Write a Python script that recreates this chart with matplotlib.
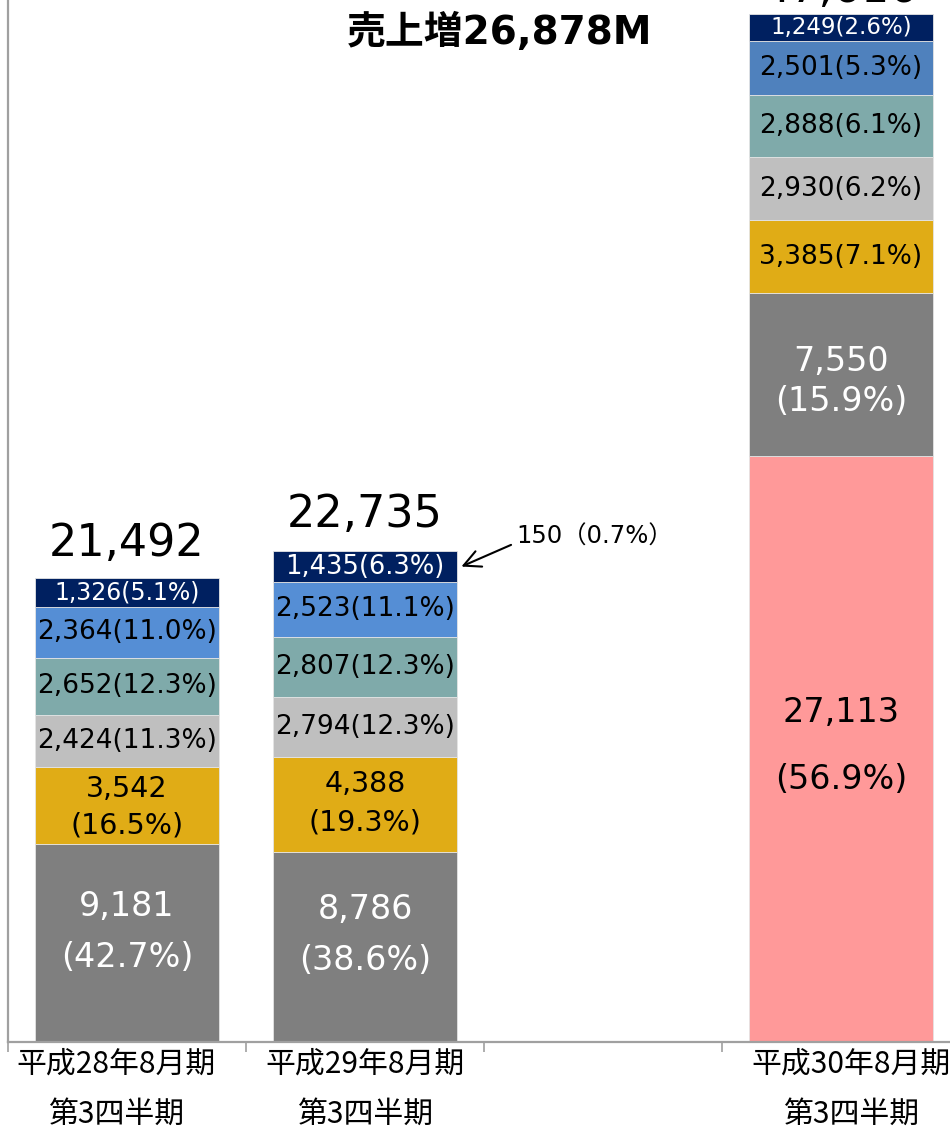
"""
Stacked sales breakdown by period (Q3), recreated with matplotlib.
Saves out.png (950x1130).
"""
import numpy as np
import matplotlib
matplotlib.use("Agg")
import matplotlib.pyplot as plt
import matplotlib.transforms as mtransforms

# ---------------------------------------------------------------------------
# data
# ---------------------------------------------------------------------------
periods = ["平成28年8月期\n第3四半期", "平成29年8月期\n第3四半期", "",
           "平成30年8月期\n第3四半期"]

# segments from bottom to top (0 = no segment in that period)
new_biz = [0, 0, 0, 27113]
new_biz_pct = [0, 0, 0, 56.9]
seg_gray = [9181, 8786, 0, 7550]
seg_gray_pct = [42.7, 38.6, 0, 15.9]
seg_gold = [3542, 4388, 0, 3385]
seg_gold_pct = [16.5, 19.3, 0, 7.1]
seg_silver = [2424, 2794, 0, 2930]
seg_silver_pct = [11.3, 12.3, 0, 6.2]
seg_teal = [2652, 2807, 0, 2888]
seg_teal_pct = [12.3, 12.3, 0, 6.1]
seg_blue = [2364, 2523, 0, 2501]
seg_blue_pct = [11.0, 11.1, 0, 5.3]
seg_navy = [1326, 1435, 0, 1249]
seg_navy_pct = [5.1, 6.3, 0, 2.6]

totals = [21492, 22735, 0, 47616]
note_value, note_pct = 150, 0.7
title = "売上増26,878M"

# ---------------------------------------------------------------------------
# style
# ---------------------------------------------------------------------------
CJK = ["Noto Sans CJK JP", "DejaVu Sans"]
LAT = ["DejaVu Sans", "Noto Sans CJK JP"]

# (values, pcts, colours per bar, text colour, font sizes per bar)
SERIES = [
    (new_biz, new_biz_pct, ["#FF9999"] * 4, "black", [0, 0, 0, 24]),
    (seg_gray, seg_gray_pct, ["#7F7F7F"] * 4, "white", [24, 24, 0, 24]),
    (seg_gold, seg_gold_pct, ["#E0AC16"] * 4, "black", [20.5, 20.5, 0, 19]),
    (seg_silver, seg_silver_pct, ["#BFBFBF"] * 4, "black", [19, 19, 0, 19]),
    (seg_teal, seg_teal_pct, ["#7FAAAA"] * 4, "black", [19, 19, 0, 19]),
    (seg_blue, seg_blue_pct, ["#558ED5", "#558ED5", "#558ED5", "#4F81BD"],
     "black", [19, 19, 0, 19]),
    (seg_navy, seg_navy_pct, ["#002060"] * 4, "white", [17, 18.5, 0, 16.5]),
]
# two-line labels: (series, bar) -> pixel offsets of value / pct line
TWO_LINE = {(0, 3): (37, -30), (1, 0): (36, -15), (1, 1): (38, -13),
            (1, 3): (13, -27), (2, 0): (16, -20), (2, 1): (21, -18)}
TOTAL_OFFSET = [22, 24, 0, 12]
TICK_SHIFT = [-11, 0, 0, 10]   # px, horizontal nudge of category labels

W, H = 950, 1130
fig = plt.figure(figsize=(W / 100, H / 100), dpi=100)
ax = fig.add_axes([8 / W, 88 / H, 952 / W, 1042 / H])

x = np.arange(len(periods))
width = 0.77
bottom = np.zeros(len(periods))

for si, (vals, pcts, cols, tcol, sizes) in enumerate(SERIES):
    vals = np.array(vals, dtype=float)
    ax.bar(x, vals, width, bottom=bottom, color=cols,
           edgecolor="#E4E4E4", linewidth=0.6)
    for i, v in enumerate(vals):
        if v <= 0:
            continue
        yc = bottom[i] + v / 2
        fs = sizes[i]
        if (si, i) in TWO_LINE:
            dv, dp = TWO_LINE[(si, i)]
            ax.annotate(f"{int(v):,}", (x[i], yc), xytext=(0, dv),
                        textcoords="offset pixels", ha="center", va="center",
                        fontsize=fs, color=tcol, family=LAT)
            ax.annotate(f"({pcts[i]:.1f}%)", (x[i], yc), xytext=(0, dp),
                        textcoords="offset pixels", ha="center", va="center",
                        fontsize=fs, color=tcol, family=LAT)
        else:
            ax.text(x[i], yc, f"{int(v):,}({pcts[i]:.1f}%)", ha="center",
                    va="center", fontsize=fs, color=tcol, family=LAT)
    bottom += vals

# totals above bars
for i, t in enumerate(totals):
    if t <= 0:
        continue
    ax.annotate(f"{t:,}", (x[i], bottom[i]), xytext=(0, TOTAL_OFFSET[i]),
                textcoords="offset pixels", ha="center", va="baseline",
                fontsize=32, color="black", family=LAT, annotation_clip=False)

# note with arrow pointing at the top of the second bar
navy_mid = bottom[1] - seg_navy[1] / 2
ax.annotate(f"{note_value}（{note_pct:.1f}%）", xy=(x[1] + width / 2 + 0.02, navy_mid),
            xytext=(55, 30), textcoords="offset pixels", ha="left", va="center",
            fontsize=17.5, family=LAT,
            arrowprops=dict(arrowstyle="->", lw=1.5, color="black",
                            mutation_scale=30, relpos=(0, 0.25),
                            shrinkA=2, shrinkB=0))

ax.set_xlim(-0.5, len(periods) - 0.5)
ax.set_ylim(0, 48250)
for s in ["top", "right"]:
    ax.spines[s].set_visible(False)
for s in ["left", "bottom"]:
    ax.spines[s].set_color("#A0A0A0")
    ax.spines[s].set_linewidth(1.6)
ax.set_yticks([])
ax.set_xticks(x)
ax.set_xticklabels(periods, fontsize=21.5, family=CJK, linespacing=1.8)
ax.tick_params(axis="x", which="major", length=0, pad=5)
for lab, dx in zip(ax.get_xticklabels(), TICK_SHIFT):
    lab.set_transform(lab.get_transform() +
                      mtransforms.ScaledTranslation(dx / 100, 0, fig.dpi_scale_trans))
ax.set_xticks(np.arange(-0.5, len(periods), 1.0), minor=True)
ax.tick_params(axis="x", which="minor", length=7, width=1.2, color="#A0A0A0")

fig.text(500 / W, 1 - 32 / H, title, ha="center", va="center", fontsize=28,
         fontweight="bold", family=LAT)

fig.savefig("out.png", dpi=100)
